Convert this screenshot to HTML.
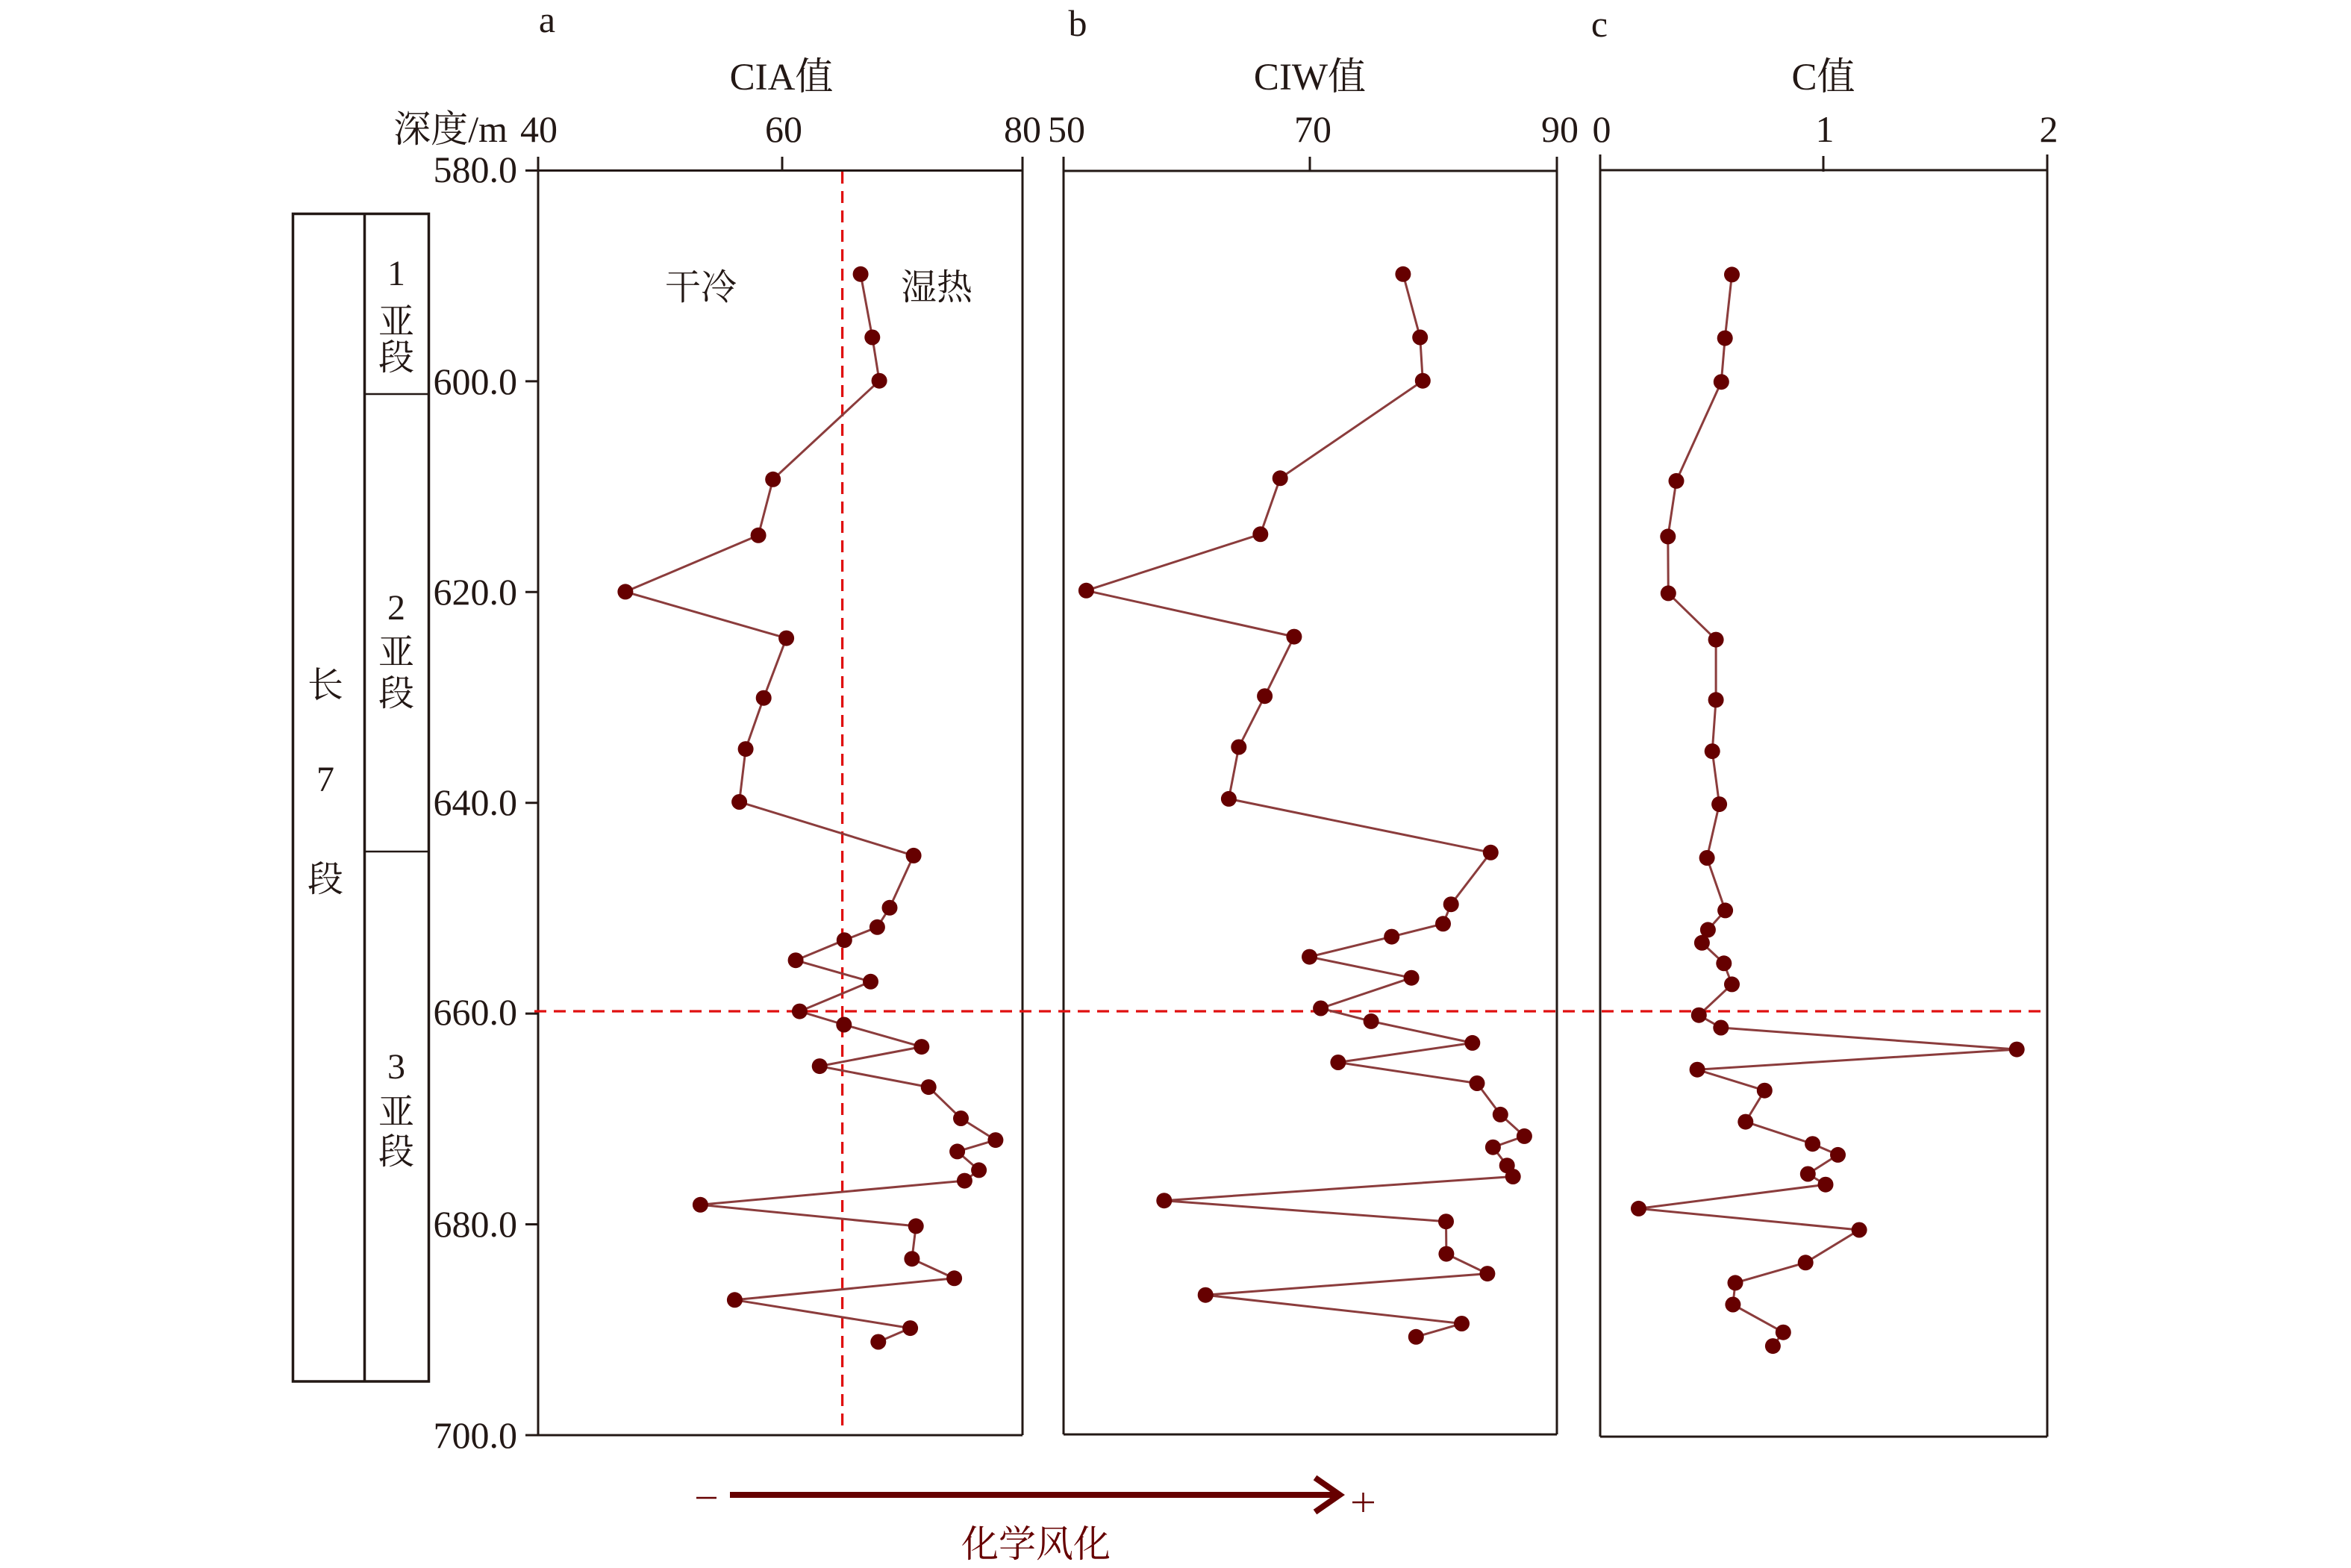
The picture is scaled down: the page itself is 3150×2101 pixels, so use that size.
<!DOCTYPE html>
<html>
<head>
<meta charset="utf-8">
<style>
html,body{margin:0;padding:0;background:#fff;}
svg{display:block;}
text{font-family:"Liberation Serif","Noto Serif CJK SC",serif;fill:#231815;}
</style>
</head>
<body>
<svg width="3150" height="2101" viewBox="0 0 3150 2101" xmlns="http://www.w3.org/2000/svg">
<rect width="3150" height="2101" fill="#fff"/>

<!-- panel labels -->
<text x="733" y="43" font-size="50" text-anchor="middle">a</text>
<text x="1444" y="48" font-size="50" text-anchor="middle">b</text>
<text x="2143" y="49" font-size="50" text-anchor="middle">c</text>

<!-- titles -->
<text x="1047" y="120" font-size="51" text-anchor="middle">CIA值</text>
<text x="1755" y="120" font-size="51" text-anchor="middle">CIW值</text>
<text x="2443" y="120" font-size="51" text-anchor="middle">C值</text>

<!-- top tick labels -->
<text x="680" y="190" font-size="50" text-anchor="end">深度/m</text>
<text x="722" y="190" font-size="50" text-anchor="middle">40</text>
<text x="1050" y="190" font-size="50" text-anchor="middle">60</text>
<text x="1370" y="190" font-size="50" text-anchor="middle">80</text>
<text x="1429" y="190" font-size="50" text-anchor="middle">50</text>
<text x="1759" y="190" font-size="50" text-anchor="middle">70</text>
<text x="2090" y="190" font-size="50" text-anchor="middle">90</text>
<text x="2146" y="190" font-size="50" text-anchor="middle">0</text>
<text x="2445" y="190" font-size="50" text-anchor="middle">1</text>
<text x="2745" y="190" font-size="50" text-anchor="middle">2</text>

<!-- depth labels -->
<g font-size="50" text-anchor="end">
<text x="693" y="244">580.0</text>
<text x="693" y="528">600.0</text>
<text x="693" y="810">620.0</text>
<text x="693" y="1092">640.0</text>
<text x="693" y="1373">660.0</text>
<text x="693" y="1657">680.0</text>
<text x="693" y="1940">700.0</text>
</g>

<!-- panel frames -->
<g stroke="#231815" stroke-width="3" fill="none">
<!-- panel a -->
<line x1="704" y1="228.5" x2="1370" y2="228.5"/>
<line x1="721" y1="210" x2="721" y2="1923"/>
<line x1="1370" y1="210" x2="1370" y2="1923"/>
<line x1="721" y1="1923" x2="1370" y2="1923"/>
<line x1="1048" y1="210" x2="1048" y2="228"/>
<!-- depth ticks -->
<line x1="704" y1="510.9" x2="721" y2="510.9"/>
<line x1="704" y1="793.3" x2="721" y2="793.3"/>
<line x1="704" y1="1075.7" x2="721" y2="1075.7"/>
<line x1="704" y1="1358.1" x2="721" y2="1358.1"/>
<line x1="704" y1="1640.5" x2="721" y2="1640.5"/>
<line x1="704" y1="1923" x2="721" y2="1923"/>
<!-- panel b -->
<line x1="1425" y1="229" x2="2086" y2="229"/>
<line x1="1425" y1="210" x2="1425" y2="1922"/>
<line x1="2086" y1="210" x2="2086" y2="1922"/>
<line x1="1425" y1="1922" x2="2086" y2="1922"/>
<line x1="1755" y1="210" x2="1755" y2="229"/>
<!-- panel c -->
<line x1="2144" y1="228" x2="2743" y2="228"/>
<line x1="2144" y1="207" x2="2144" y2="1925"/>
<line x1="2743" y1="207" x2="2743" y2="1925"/>
<line x1="2144" y1="1925" x2="2743" y2="1925"/>
<line x1="2443" y1="209" x2="2443" y2="230"/>
</g>

<!-- stratigraphic column -->
<g stroke="#231815" fill="none">
<rect x="392.5" y="286.5" width="182" height="1564.5" stroke-width="3.5"/>
<line x1="488.5" y1="286.5" x2="488.5" y2="1851" stroke-width="3.5"/>
<line x1="488.5" y1="528" x2="574.5" y2="528" stroke-width="2.5"/>
<line x1="488.5" y1="1141" x2="574.5" y2="1141" stroke-width="2.5"/>
</g>
<g font-size="48" text-anchor="middle">
<text x="531" y="382">1</text>
<text x="531" y="447">亚</text>
<text x="531" y="495">段</text>
<text x="531" y="830">2</text>
<text x="531" y="890">亚</text>
<text x="531" y="945">段</text>
<text x="531" y="1445">3</text>
<text x="531" y="1506">亚</text>
<text x="531" y="1559">段</text>
<text x="436" y="934">长</text>
<text x="436" y="1060">7</text>
<text x="436" y="1194">段</text>
</g>

<!-- 干冷 / 湿热 -->
<text x="939" y="401" font-size="48" text-anchor="middle">干冷</text>
<text x="1255" y="401" font-size="48" text-anchor="middle">湿热</text>

<!-- red dashed reference lines -->
<g stroke="#e01010" stroke-width="3.3" fill="none" stroke-dasharray="16,10">
<line x1="1128.6" y1="230" x2="1128.6" y2="1920"/>
<line x1="716" y1="1355" x2="2742" y2="1355"/>
</g>

<!-- series lines -->
<g stroke="#8b3c3c" stroke-width="3" fill="none" stroke-linejoin="round">
<polyline points="1153.1,367.3 1168.8,452 1178.1,510.2 1035.7,642.3 1016.1,717.3 837.9,792.9 1053.6,855.1 1023.2,935.2 999.1,1003.6 990.6,1074.5 1224.1,1146.4 1192.0,1216.3 1175.4,1242.3 1131.3,1259.7 1066.1,1286.7 1166.5,1315.3 1071.4,1355.1 1130.8,1373 1234.8,1402.6 1098.2,1428.6 1244.2,1456.6 1287.5,1498.5 1333.9,1527.6 1282.6,1542.9 1311.6,1567.9 1292.4,1582.1 938.4,1614.3 1227.2,1642.9 1221.9,1686.7 1278.6,1712.8 984.4,1741.8 1219.6,1779.6 1176.8,1798"/>
<polyline points="1879.9,367.3 1902.7,452 1906.3,510.2 1715.2,640.8 1688.8,715.8 1455.4,791.3 1733.9,853.1 1694.6,932.7 1659.8,1001 1646.4,1070.4 1997.3,1142.3 1944.2,1211.7 1933.5,1237.8 1864.7,1255.1 1754.5,1282.1 1891.1,1310.2 1769.6,1351 1837.1,1368.4 1972.8,1397.4 1792.9,1423.5 1979,1451.5 2010.3,1493.4 2042.4,1522.4 2000.4,1537.2 2019.2,1561.7 2027.2,1576.5 1559.8,1608.7 1937.5,1636.7 1937.9,1680.1 1992.9,1706.6 1615.2,1735.2 1958.5,1773.5 1897.3,1791.3"/>
<polyline points="2320.5,367.9 2311.2,453.1 2306.3,511.7 2246,644.4 2234.8,718.9 2235.3,794.9 2299.1,857.1 2299.1,937.8 2294.2,1006.6 2303.6,1077.6 2287.1,1149.5 2311.6,1219.9 2288.4,1245.9 2280.4,1263.3 2309.8,1290.8 2320.5,1318.9 2276.3,1360.2 2305.8,1377 2702.2,1406.1 2274.1,1433.2 2364.3,1461.2 2338.8,1503.1 2428.6,1532.7 2462.5,1547.4 2422.3,1573 2446,1587.2 2195.5,1619.4 2491.1,1648 2419.2,1691.8 2325,1718.9 2321.9,1748 2389.3,1785.2 2375.4,1803.6"/>
</g>

<!-- markers -->
<g fill="#660000">
<circle cx="1153.1" cy="367.3" r="10.5"/><circle cx="1168.8" cy="452" r="10.5"/><circle cx="1178.1" cy="510.2" r="10.5"/><circle cx="1035.7" cy="642.3" r="10.5"/><circle cx="1016.1" cy="717.3" r="10.5"/><circle cx="837.9" cy="792.9" r="10.5"/><circle cx="1053.6" cy="855.1" r="10.5"/><circle cx="1023.2" cy="935.2" r="10.5"/><circle cx="999.1" cy="1003.6" r="10.5"/><circle cx="990.6" cy="1074.5" r="10.5"/><circle cx="1224.1" cy="1146.4" r="10.5"/><circle cx="1192.0" cy="1216.3" r="10.5"/><circle cx="1175.4" cy="1242.3" r="10.5"/><circle cx="1131.3" cy="1259.7" r="10.5"/><circle cx="1066.1" cy="1286.7" r="10.5"/><circle cx="1166.5" cy="1315.3" r="10.5"/><circle cx="1071.4" cy="1355.1" r="10.5"/><circle cx="1130.8" cy="1373" r="10.5"/><circle cx="1234.8" cy="1402.6" r="10.5"/><circle cx="1098.2" cy="1428.6" r="10.5"/><circle cx="1244.2" cy="1456.6" r="10.5"/><circle cx="1287.5" cy="1498.5" r="10.5"/><circle cx="1333.9" cy="1527.6" r="10.5"/><circle cx="1282.6" cy="1542.9" r="10.5"/><circle cx="1311.6" cy="1567.9" r="10.5"/><circle cx="1292.4" cy="1582.1" r="10.5"/><circle cx="938.4" cy="1614.3" r="10.5"/><circle cx="1227.2" cy="1642.9" r="10.5"/><circle cx="1221.9" cy="1686.7" r="10.5"/><circle cx="1278.6" cy="1712.8" r="10.5"/><circle cx="984.4" cy="1741.8" r="10.5"/><circle cx="1219.6" cy="1779.6" r="10.5"/><circle cx="1176.8" cy="1798" r="10.5"/>

<circle cx="1879.9" cy="367.3" r="10.5"/><circle cx="1902.7" cy="452" r="10.5"/><circle cx="1906.3" cy="510.2" r="10.5"/><circle cx="1715.2" cy="640.8" r="10.5"/><circle cx="1688.8" cy="715.8" r="10.5"/><circle cx="1455.4" cy="791.3" r="10.5"/><circle cx="1733.9" cy="853.1" r="10.5"/><circle cx="1694.6" cy="932.7" r="10.5"/><circle cx="1659.8" cy="1001" r="10.5"/><circle cx="1646.4" cy="1070.4" r="10.5"/><circle cx="1997.3" cy="1142.3" r="10.5"/><circle cx="1944.2" cy="1211.7" r="10.5"/><circle cx="1933.5" cy="1237.8" r="10.5"/><circle cx="1864.7" cy="1255.1" r="10.5"/><circle cx="1754.5" cy="1282.1" r="10.5"/><circle cx="1891.1" cy="1310.2" r="10.5"/><circle cx="1769.6" cy="1351" r="10.5"/><circle cx="1837.1" cy="1368.4" r="10.5"/><circle cx="1972.8" cy="1397.4" r="10.5"/><circle cx="1792.9" cy="1423.5" r="10.5"/><circle cx="1979" cy="1451.5" r="10.5"/><circle cx="2010.3" cy="1493.4" r="10.5"/><circle cx="2042.4" cy="1522.4" r="10.5"/><circle cx="2000.4" cy="1537.2" r="10.5"/><circle cx="2019.2" cy="1561.7" r="10.5"/><circle cx="2027.2" cy="1576.5" r="10.5"/><circle cx="1559.8" cy="1608.7" r="10.5"/><circle cx="1937.5" cy="1636.7" r="10.5"/><circle cx="1937.9" cy="1680.1" r="10.5"/><circle cx="1992.9" cy="1706.6" r="10.5"/><circle cx="1615.2" cy="1735.2" r="10.5"/><circle cx="1958.5" cy="1773.5" r="10.5"/><circle cx="1897.3" cy="1791.3" r="10.5"/>

<circle cx="2320.5" cy="367.9" r="10.5"/><circle cx="2311.2" cy="453.1" r="10.5"/><circle cx="2306.3" cy="511.7" r="10.5"/><circle cx="2246" cy="644.4" r="10.5"/><circle cx="2234.8" cy="718.9" r="10.5"/><circle cx="2235.3" cy="794.9" r="10.5"/><circle cx="2299.1" cy="857.1" r="10.5"/><circle cx="2299.1" cy="937.8" r="10.5"/><circle cx="2294.2" cy="1006.6" r="10.5"/><circle cx="2303.6" cy="1077.6" r="10.5"/><circle cx="2287.1" cy="1149.5" r="10.5"/><circle cx="2311.6" cy="1219.9" r="10.5"/><circle cx="2288.4" cy="1245.9" r="10.5"/><circle cx="2280.4" cy="1263.3" r="10.5"/><circle cx="2309.8" cy="1290.8" r="10.5"/><circle cx="2320.5" cy="1318.9" r="10.5"/><circle cx="2276.3" cy="1360.2" r="10.5"/><circle cx="2305.8" cy="1377" r="10.5"/><circle cx="2702.2" cy="1406.1" r="10.5"/><circle cx="2274.1" cy="1433.2" r="10.5"/><circle cx="2364.3" cy="1461.2" r="10.5"/><circle cx="2338.8" cy="1503.1" r="10.5"/><circle cx="2428.6" cy="1532.7" r="10.5"/><circle cx="2462.5" cy="1547.4" r="10.5"/><circle cx="2422.3" cy="1573" r="10.5"/><circle cx="2446" cy="1587.2" r="10.5"/><circle cx="2195.5" cy="1619.4" r="10.5"/><circle cx="2491.1" cy="1648" r="10.5"/><circle cx="2419.2" cy="1691.8" r="10.5"/><circle cx="2325" cy="1718.9" r="10.5"/><circle cx="2321.9" cy="1748" r="10.5"/><circle cx="2389.3" cy="1785.2" r="10.5"/><circle cx="2375.4" cy="1803.6" r="10.5"/>
</g>

<!-- chemical weathering arrow -->
<g stroke="#660000" fill="none">
<line x1="978" y1="2003" x2="1790" y2="2003" stroke-width="8"/>
<polyline points="1762,1980 1795,2003 1762,2026" stroke-width="8" stroke-linejoin="miter"/>
<line x1="933" y1="2007" x2="960" y2="2007" stroke-width="2.5"/>
<line x1="1812" y1="2013" x2="1841" y2="2013" stroke-width="2.5"/>
<line x1="1826.5" y1="2000" x2="1826.5" y2="2026" stroke-width="2.5"/>
</g>
<text x="1388" y="2086" font-size="50" text-anchor="middle" style="fill:#660000">化学风化</text>

</svg>
</body>
</html>
